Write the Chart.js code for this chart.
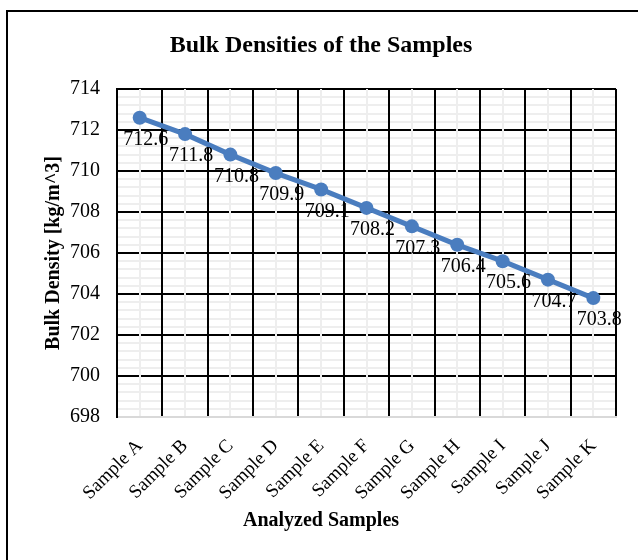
<!DOCTYPE html>
<html>
<head>
<meta charset="utf-8">
<script src="https://cdn.jsdelivr.net/npm/chart.js@4.4.1/dist/chart.umd.min.js"></script>
<style>
  html, body { margin: 0; padding: 0; background: #fff; }
  #chart { display: block; }
</style>
</head>
<body>
<canvas id="chart" width="638" height="560"></canvas>
<script>
const samples = ['Sample A', 'Sample B', 'Sample C', 'Sample D', 'Sample E', 'Sample F',
                 'Sample G', 'Sample H', 'Sample I', 'Sample J', 'Sample K'];
const densities = [712.6, 711.8, 710.8, 709.9, 709.1, 708.2, 707.3, 706.4, 705.6, 704.7, 703.8];
const yMin = 698;
const yMax = 714;
const yStep = 2;
const yMinorStep = 0.4;

const serif = 'Liberation Serif, Times New Roman, serif';
const blue = '#4a7dbf';

// black frame around the chart (right and bottom edges fall outside the picture)
const frame = {
    id: 'frame',
    beforeDraw(chart) {
        const ctx = chart.ctx;
        ctx.save();
        ctx.fillStyle = '#fff';
        ctx.fillRect(0, 0, chart.width, chart.height);
        ctx.strokeStyle = '#000';
        ctx.lineWidth = 2;
        ctx.strokeRect(7, 11, 700, 700);
        ctx.restore();
    }
};

// value labels under each point
const pointLabels = {
    id: 'pointLabels',
    afterDatasetsDraw(chart) {
        const ctx = chart.ctx;
        const meta = chart.getDatasetMeta(0);
        ctx.save();
        ctx.font = '20px ' + serif;
        ctx.fillStyle = '#000';
        ctx.textAlign = 'center';
        ctx.textBaseline = 'middle';
        meta.data.forEach((pt, i) => {
            ctx.fillText(densities[i].toFixed(1), pt.x + 6, pt.y + 22);
        });
        ctx.restore();
    }
};

// chart + axis titles, centred on the whole chart like the original
const titles = {
    id: 'titles',
    afterDraw(chart) {
        const ctx = chart.ctx;
        const area = chart.chartArea;
        ctx.save();
        ctx.fillStyle = '#000';
        ctx.textAlign = 'center';
        ctx.textBaseline = 'middle';
        ctx.font = 'bold 24px ' + serif;
        ctx.fillText('Bulk Densities of the Samples', 321, 46);
        ctx.font = 'bold 20px ' + serif;
        ctx.fillText('Analyzed Samples', 321, 521);
        ctx.translate(54, (area.top + area.bottom) / 2);
        ctx.rotate(-Math.PI / 2);
        ctx.fillText('Bulk Density [kg/m^3]', 0, 0);
        ctx.restore();
    }
};

new Chart(document.getElementById('chart'), {
    type: 'line',
    data: {
        labels: samples,
        datasets: [{
            label: 'Bulk Density',
            data: densities,
            borderColor: blue,
            backgroundColor: blue,
            borderWidth: 5,
            pointRadius: 7,
            pointHoverRadius: 7,
            pointBorderWidth: 0,
            pointBackgroundColor: blue,
            tension: 0
        }]
    },
    options: {
        responsive: false,
        devicePixelRatio: 1,
        animation: false,
        layout: { padding: { left: 0, right: 22, top: 89, bottom: 0 } },
        scales: {
            x: {
                type: 'category',
                offset: true,
                grid: { offset: true, color: '#000', lineWidth: 2, drawTicks: false, z: -1 },
                border: { color: '#d9d9d9', width: 2, z: -1 },
                ticks: {
                    font: { family: serif, size: 19 },
                    color: '#000',
                    minRotation: 45,
                    maxRotation: 45,
                    autoSkip: false,
                    padding: 18
                },
                afterFit(scale) { scale.height = 143; }
            },
            xMinor: {
                type: 'category',
                position: 'bottom',
                offset: true,
                grid: { offset: false, color: '#eeeeee', lineWidth: 2, drawTicks: false, z: -2 },
                border: { display: false },
                ticks: { display: false },
                afterFit(scale) { scale.height = 0; }
            },
            y: {
                type: 'linear',
                min: yMin,
                max: yMax,
                grid: {
                    color: ctx => ctx.tick && ctx.tick.value === yMin ? '#d9d9d9' : '#000',
                    lineWidth: 2,
                    drawTicks: false,
                    z: -3
                },
                border: { color: '#000', width: 2, z: -1 },
                ticks: {
                    stepSize: yStep,
                    font: { family: serif, size: 20 },
                    color: '#000',
                    padding: 17
                },
                afterFit(scale) { scale.width = 117; }
            },
            yMinor: {
                type: 'linear',
                position: 'left',
                min: yMin,
                max: yMax,
                grid: { color: '#eeeeee', lineWidth: 2, drawTicks: false, z: -4 },
                border: { display: false },
                ticks: { stepSize: yMinorStep, display: false, maxTicksLimit: 100 },
                afterFit(scale) { scale.width = 0; }
            }
        },
        plugins: {
            legend: { display: false },
            tooltip: { enabled: false },
            title: { display: false }
        }
    },
    plugins: [frame, pointLabels, titles]
});
</script>
</body>
</html>
